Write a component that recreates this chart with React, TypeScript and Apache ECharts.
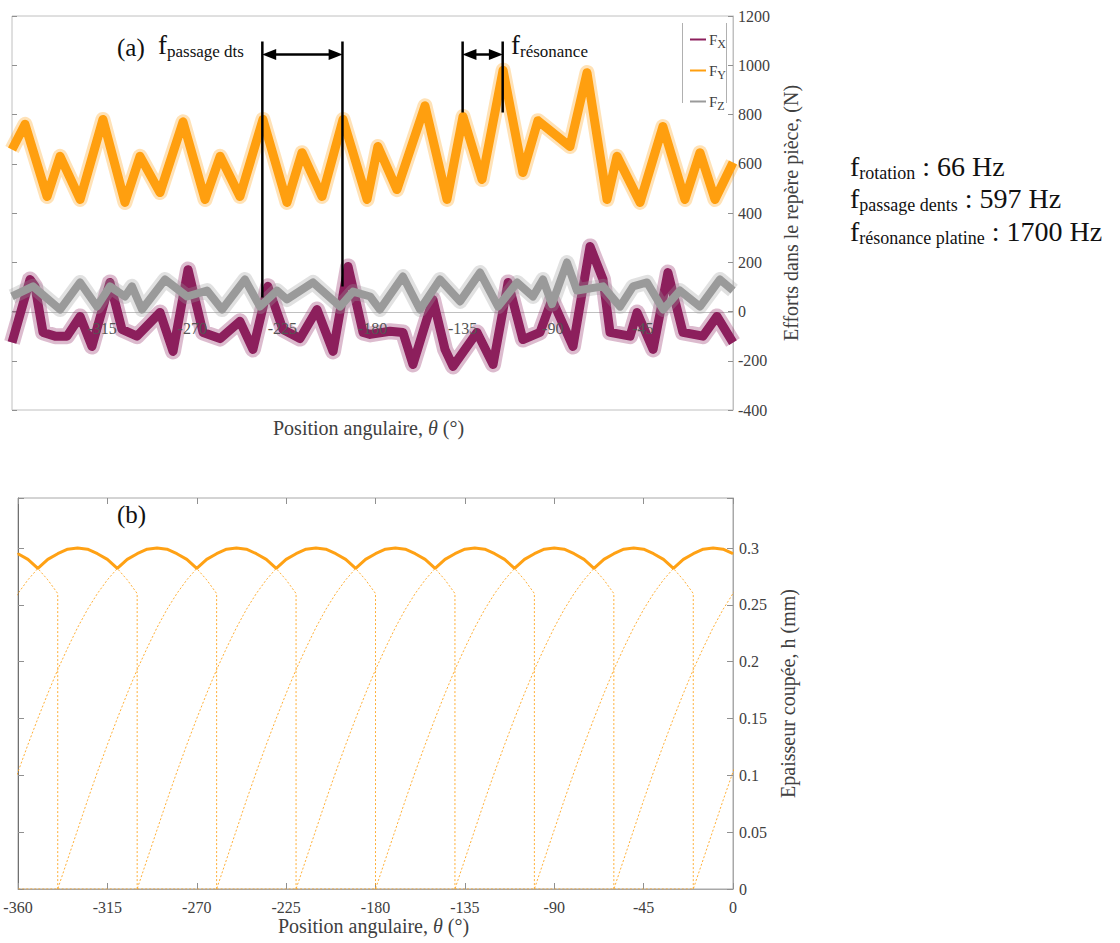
import React, { useEffect, useRef } from "react";
import * as echarts from "echarts";

const FONT = "'Liberation Serif', 'DejaVu Serif', serif";

// ---- (a) Efforts dans le repère pièce (N) ----
const fxAngles = [-360, -351, -348.5, -344.5, -338.5, -332.5, -326, -320.1, -311.1, -305.1, -297.6, -286.1, -279.6, -272.1, -264.6, -256.1, -246.2, -239.7, -232.2, -224.7, -216.2, -207.7, -199.7, -192.2, -184.7, -181.2, -171.3, -164.8, -159.8, -149.8, -143.8, -139.8, -127.8, -119.8, -112.3, -104.9, -96.4, -90.4, -79.9, -71.4, -64.9, -61.4, -51.4, -47.9, -39.9, -32.5, -25, -15, -8, 0];
const fxValues = [-126, 130, 102, -85, -100, -100, -20, -142, 118, -73, -100, -4, -162, 170, -85, -110, -40, -154, 102, -73, -110, 8, -162, 183, -85, -93, -80, -85, -215, 49, -154, -223, -85, -215, 118, -114, -85, 49, -142, 264, 130, -85, -100, -4, -154, 158, -85, -100, -20, -126];

const fyAngles = [-360, -353.5, -342.5, -336, -326, -314.6, -303.6, -296.1, -286.1, -274.6, -263.6, -256.1, -246.2, -234.7, -222.7, -215.2, -205.2, -194.7, -182.7, -177.3, -167.8, -153.8, -142.8, -134.8, -125.3, -114.8, -104.9, -97.4, -89, -81.4, -72.9, -62.9, -57.9, -46.4, -35, -24, -16.5, -9, 0];
const fyValues = [658, 760, 467, 630, 455, 780, 443, 630, 483, 770, 455, 630, 467, 780, 443, 645, 467, 780, 455, 670, 495, 835, 455, 792, 536, 980, 564, 775, 720, 670, 970, 455, 630, 443, 751, 455, 645, 455, 605];

const fzAngles = [-360, -349.5, -336, -326, -317.6, -311.1, -303.6, -300.1, -295.1, -283.6, -272.6, -262.6, -255.1, -243.7, -236.2, -227.7, -222.7, -209.7, -196.2, -189.7, -181.2, -176.3, -164.8, -156.3, -146.3, -136.3, -126.3, -117.3, -107.8, -99.9, -94.9, -90.4, -82.9, -77.9, -64.9, -56.4, -49.9, -42.9, -34.9, -26.5, -16.5, -6.5, 0];
const fzValues = [61, 102, 8, 118, 20, 102, 61, 102, 8, 130, 61, 85, 8, 130, 20, 85, 49, 118, 20, 81, 61, 8, 142, 8, 130, 41, 158, 20, 118, 61, 130, 30, 199, 85, 102, 20, 102, 118, 8, 85, 20, 130, 85];

// angle tick labels shown on the zero line of (a)
const zeroLineTicks = [-315, -270, -225, -180, -135, -90, -45];

// annotation markers (angle, top value, bottom value)
const markerAngles = [-235, -195, -135, -115];
const markerTops = [1096, 1096, 1096, 1096];
const markerBottoms = [57, 102, 808, 808];
const arrowLevel = 1044;
const arrowPairs = [[-235, -195], [-135, -115]];

// ---- (b) Epaisseur coupée h (mm) ----
const toothStarts = [-460, -420, -380, -340, -300, -260, -220, -180, -140, -100, -60, -20];
const toothPitch = 40;
const profileAngles = [0, 5, 10, 15, 20, 25, 30, 35, 40, 45, 50, 55, 60, 65, 70, 75, 80, 85, 90, 95, 100, 105, 110, 115, 120];
const profileValues = [0, 0.026, 0.052, 0.078, 0.103, 0.127, 0.15, 0.172, 0.193, 0.212, 0.23, 0.246, 0.26, 0.272, 0.282, 0.29, 0.295, 0.299, 0.3, 0.299, 0.295, 0.29, 0.282, 0.272, 0.26];

const C_FX = "#8c1f5c";
const C_FY = "#ff9f0f";
const C_FZ = "#9a9a9a";
const C_H = "#ffa114";
const LABEL = "#404040";

const zip = (a: number[], b: number[]) => a.map((x, i) => [x, b[i]]);

function toothData(start: number) {
  const d: number[][] = [[start - toothPitch, 0], [start, 0]];
  profileAngles.forEach((p, i) => d.push([start + p, profileValues[i]]));
  d.push([start + profileAngles[profileAngles.length - 1], 0]);
  return d;
}

function envelopeData() {
  const out: number[][] = [];
  for (let a = -360; a <= 0; a += 5) {
    let m = 0;
    toothStarts.forEach((s) => {
      const idx = profileAngles.indexOf(a - s);
      if (idx >= 0) m = Math.max(m, profileValues[idx]);
    });
    out.push([a, m]);
  }
  return out;
}

function buildOption(): any {
  const axisLabel = { fontFamily: FONT, fontSize: 16, color: LABEL };
  const bandSeries = (name: string, data: number[][], color: string, core: number, fuzz: number) => [
    {
      name: name + "_f", type: "line", xAxisIndex: 0, yAxisIndex: 0, data, symbol: "none", silent: true,
      lineStyle: { color, width: fuzz, opacity: 0.3, join: "round" },
    },
    {
      name, type: "line", xAxisIndex: 0, yAxisIndex: 0, data, symbol: "none", silent: true,
      itemStyle: { color }, lineStyle: { color, width: core, join: "round" },
    },
  ];

  const markerSeries = markerAngles.map((a, i) => ({
    name: "marker" + i, type: "line", xAxisIndex: 0, yAxisIndex: 0, symbol: "none", silent: true, z: 10,
    data: [[a, markerTops[i]], [a, markerBottoms[i]]],
    lineStyle: { color: "#000", width: 2.5 },
    markLine: i === 0 ? {
      silent: true, symbol: ["triangle", "triangle"], symbolSize: [11, 14],
      label: { show: false }, lineStyle: { color: "#000", width: 2.5, type: "solid" },
      data: arrowPairs.map(([a0, a1]) => [{ coord: [a0 + 3.4, arrowLevel] }, { coord: [a1 - 3.4, arrowLevel] }]),
    } : undefined,
  }));

  const toothSeries = toothStarts.map((s, i) => ({
    name: "tooth" + i, type: "line", xAxisIndex: 1, yAxisIndex: 2, symbol: "none", silent: true,
    data: toothData(s),
    lineStyle: { color: C_H, width: 1, type: [2, 2], opacity: 0.85 },
  }));

  const sub = (base: number, subSize: number) => ({
    f: { fontSize: base, fontFamily: FONT, lineHeight: base + 4, fill: "#111" },
    m: { fontSize: base, fontFamily: FONT, lineHeight: base + 4, fill: "#111" },
    s: { fontSize: subSize, fontFamily: FONT, lineHeight: subSize, verticalAlign: "bottom", fill: "#111" },
  });

  const xName = (top: number) => ({
    type: "text", top, silent: true,
    style: {
      text: "Position angulaire, {i|θ} (°)", font: `20px ${FONT}`, fill: LABEL,
      rich: { i: { fontStyle: "italic", fontSize: 20, fontFamily: FONT, fill: LABEL } },
    },
  });

  return {
    animation: false,
    backgroundColor: "#fff",
    grid: [
      { left: 12, top: 16, width: 721, height: 394, show: true, borderColor: "#c0c0c0", borderWidth: 1 },
      { left: 18, top: 498, width: 715, height: 391, show: true, borderColor: "#a8a8a8", borderWidth: 1 },
    ],
    legend: {
      data: ["FX", "FY", "FZ"],
      orient: "vertical", left: 685, top: 27, itemWidth: 16, itemHeight: 2, itemGap: 13, icon: "rect",
      formatter: (n: string) => "F{s|" + n.slice(1) + "}",
      textStyle: {
        fontFamily: FONT, fontSize: 15, color: LABEL, padding: [0, 0, 0, -2],
        rich: { s: { fontFamily: FONT, fontSize: 12, color: LABEL, padding: [9, 0, 0, 0] } },
      },
    },
    xAxis: [
      {
        // zero line of (a)
        gridIndex: 0, type: "value", min: -360, max: 0, interval: 45, position: "bottom", offset: -98,
        axisLine: { onZero: false, lineStyle: { color: "#c0c0c0" } },
        axisTick: { show: false }, splitLine: { show: false }, axisLabel: { show: false },
      },
      {
        gridIndex: 1, type: "value", min: -360, max: 0, interval: 45, position: "bottom",
        axisLine: { onZero: false, lineStyle: { color: "#a8a8a8" } },
        axisTick: { inside: true, length: 6, lineStyle: { color: "#909090" } }, splitLine: { show: false },
        axisLabel: { ...axisLabel, margin: 10, formatter: (v: number) => String(v) },
      },
      {
        gridIndex: 1, type: "value", min: -360, max: 0, interval: 45, position: "top",
        axisLine: { show: false, onZero: false }, axisTick: { inside: true, length: 6, lineStyle: { color: "#909090" } },
        axisLabel: { show: false }, splitLine: { show: false },
      },
    ],
    yAxis: [
      {
        gridIndex: 0, type: "value", position: "right", min: -400, max: 1200, interval: 200,
        axisLine: { show: true, onZero: false, lineStyle: { color: "#c0c0c0" } },
        axisTick: { show: true, inside: true, length: 5, lineStyle: { color: "#909090" } },
        splitLine: { show: false }, axisLabel: { ...axisLabel, margin: 5, formatter: (v: number) => String(v) },
        name: "Efforts dans le repère pièce, (N)", nameLocation: "middle", nameGap: 42, nameRotate: 90,
        nameTextStyle: { fontFamily: FONT, fontSize: 20, color: LABEL },
      },
      {
        gridIndex: 0, type: "value", position: "left", min: -400, max: 1200, interval: 200,
        axisLine: { show: false, onZero: false }, axisTick: { show: true, inside: true, length: 5, lineStyle: { color: "#909090" } },
        axisLabel: { show: false }, splitLine: { show: false },
      },
      {
        gridIndex: 1, type: "value", position: "right", min: 0, max: 0.344, interval: 0.05,
        axisLine: { show: true, onZero: false, lineStyle: { color: "#a8a8a8" } },
        axisTick: { show: true, inside: true, length: 6, lineStyle: { color: "#909090" } },
        splitLine: { show: false },
        axisLabel: { ...axisLabel, margin: 6, formatter: (v: number) => (v > 0.31 ? "" : String(+v.toFixed(2))) },
        name: "Epaisseur coupée, h (mm)", nameLocation: "middle", nameGap: 44, nameRotate: 90,
        nameTextStyle: { fontFamily: FONT, fontSize: 20, color: LABEL },
      },
      {
        gridIndex: 1, type: "value", position: "left", min: 0, max: 0.344, interval: 0.05,
        axisLine: { show: true, onZero: false, lineStyle: { color: "#707070" } },
        axisTick: { show: true, inside: true, length: 6, lineStyle: { color: "#909090" } },
        axisLabel: { show: false }, splitLine: { show: false },
      },
    ],
    series: [
      ...bandSeries("FX", zip(fxAngles, fxValues), C_FX, 9, 16),
      ...bandSeries("FY", zip(fyAngles, fyValues), C_FY, 9, 15),
      ...bandSeries("FZ", zip(fzAngles, fzValues), C_FZ, 8, 15),
      {
        name: "zeroTicks", type: "scatter", xAxisIndex: 0, yAxisIndex: 0, silent: true, z: 9,
        symbol: "circle", symbolSize: 1, itemStyle: { color: "rgba(0,0,0,0)" },
        data: zeroLineTicks.map((a) => [a, 0]),
        label: {
          show: true, position: "bottom", distance: 8, fontFamily: FONT, fontSize: 16, color: "#555", opacity: 1,
          formatter: (p: any) => String(p.value[0]),
        },
      },
      ...markerSeries,
      ...toothSeries,
      {
        name: "h", type: "line", xAxisIndex: 1, yAxisIndex: 2, symbol: "none", silent: true, z: 5,
        data: envelopeData(), lineStyle: { color: C_H, width: 3 },
      },
    ],
    graphic: [
      { type: "line", shape: { x1: 682.5, y1: 23, x2: 682.5, y2: 103 }, style: { stroke: "#b0b0b0", lineWidth: 1 }, silent: true },
      { type: "line", shape: { x1: 726.5, y1: 23, x2: 726.5, y2: 103 }, style: { stroke: "#b0b0b0", lineWidth: 1 }, silent: true },
      { type: "text", left: 117, top: 35, style: { text: "(a)", font: `25px ${FONT}`, fill: "#111" }, silent: true },
      { type: "text", left: 158, top: 31, style: { text: "{f|f}{s|passage dts}", rich: sub(27, 17) }, silent: true },
      { type: "text", left: 511, top: 31, style: { text: "{f|f}{s|résonance}", rich: sub(27, 17) }, silent: true },
      { type: "text", left: 117, top: 502, style: { text: "(b)", font: `25px ${FONT}`, fill: "#111" }, silent: true },
      { ...xName(418), left: 273 },
      { ...xName(916), left: 278 },
      { type: "text", left: 850, top: 152, style: { text: "{f|f}{s|rotation}{m| : 66 Hz}", rich: sub(28, 18) }, silent: true },
      { type: "text", left: 850, top: 184, style: { text: "{f|f}{s|passage dents}{m| : 597 Hz}", rich: sub(28, 18) }, silent: true },
      { type: "text", left: 850, top: 217, style: { text: "{f|f}{s|résonance platine}{m| : 1700 Hz}", rich: sub(28, 18) }, silent: true },
    ],
  };
}

export default function App() {
  const ref = useRef<HTMLDivElement>(null);
  useEffect(() => {
    const chart = echarts.init(ref.current!, null, { renderer: "svg" });
    chart.setOption(buildOption());
    return () => chart.dispose();
  }, []);
  return <div ref={ref} style={{ position: "absolute", left: 0, top: 0, width: 1120, height: 943 }} />;
}
